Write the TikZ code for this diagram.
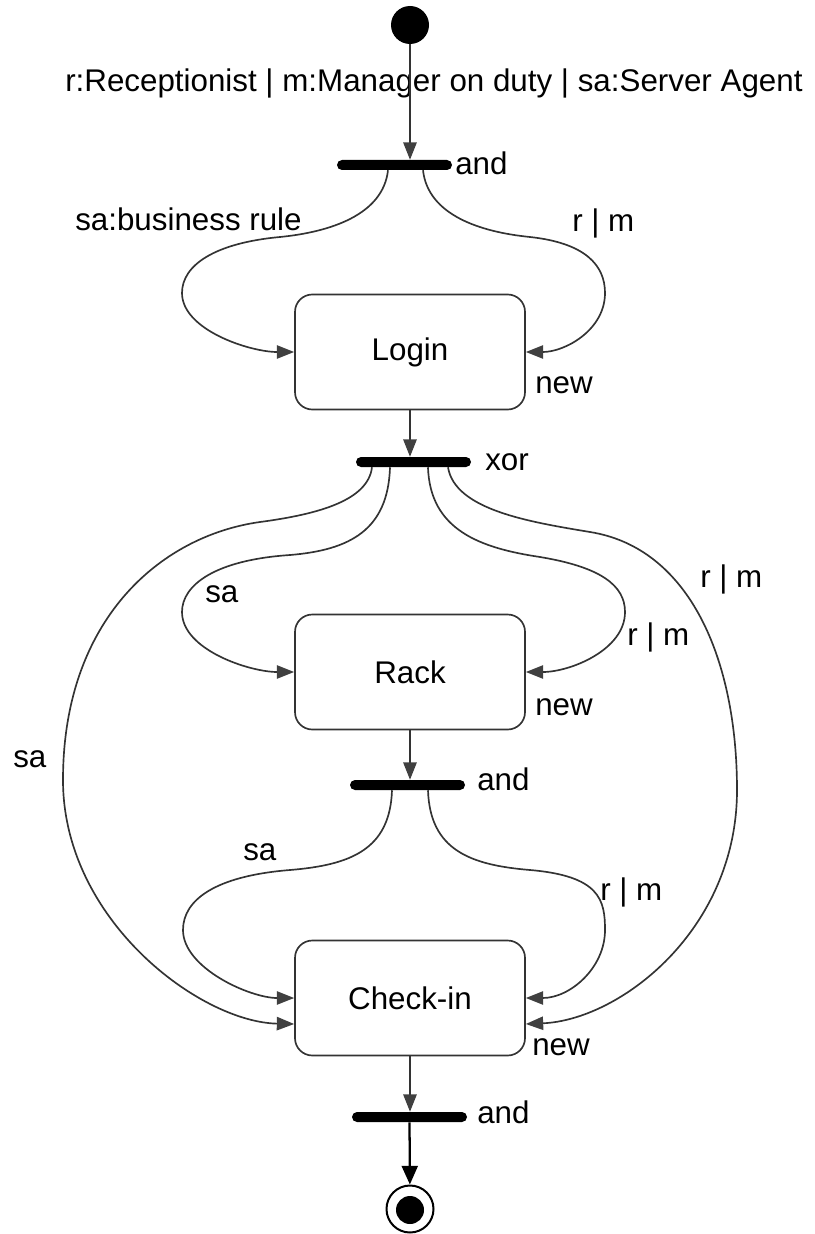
\documentclass[tikz,border=0pt]{standalone}
\usepackage{fontspec}
\setmainfont{Liberation Sans}
\usetikzlibrary{arrows.meta,calc}
\begin{document}
\begin{tikzpicture}[x=0.75pt,y=-0.75pt,
  font=\fontsize{23.5pt}{28pt}\selectfont,
  conn/.style={draw=black!80, line width=1.25pt,
    -{Triangle[length=13pt,width=10pt,color=black!75]}},
  finalconn/.style={draw=black, line width=1.7pt,
    -{Triangle[length=14pt,width=12pt,color=black]}},
  statebox/.style={draw=black!80, line width=1.25pt, rounded corners=13pt,
    minimum width=172.5pt, minimum height=86.25pt, inner sep=0pt},
  syncbar/.style={fill=black, draw=none, rounded corners=3.75pt,
    minimum width=86.25pt, minimum height=7.5pt, inner sep=0pt},
  lbl/.style={anchor=base west, inner sep=0pt}]
\useasboundingbox (0,0) rectangle (814,1234);

% nodes
\node[circle, fill=black, minimum size=28.5pt, inner sep=0pt] (start) at (410,25) {};
\node[syncbar] (bar1) at (394.5,165) {};
\node[statebox] (login) at (410,352) {Login};
\node[syncbar] (xor) at (413.5,462) {};
\node[statebox] (rack) at (410,672) {Rack};
\node[syncbar] (bar3) at (407.5,785) {};
\node[statebox] (checkin) at (410,998) {Check-in};
\node[syncbar] (bar4) at (409.5,1117) {};
\node[circle, draw=black, line width=1.5pt, minimum size=35.25pt, inner sep=0pt] (final) at (410,1209) {};
\node[circle, fill=black, minimum size=21pt, inner sep=0pt] (finalin) at (410,1210) {};

% labels
\node[lbl] (roles) at (65,92) {r:Receptionist | m:Manager on duty | sa:Server Agent};
\node[lbl] (and1) at (455,175) {and};
\node[lbl] (sabr) at (75,230) {sa:business rule};
\node[lbl] (rm1) at (572,231) {r | m};
\node[lbl] (new1) at (535,393) {new};
\node[lbl] (xorl) at (485,470) {xor};
\node[lbl] (sa1) at (205,602) {sa};
\node[lbl] (rm2) at (627,645) {r | m};
\node[lbl] (rm3) at (700,587) {r | m};
\node[lbl] (new2) at (535,715) {new};
\node[lbl] (and3) at (477,790) {and};
\node[lbl] (sa2) at (13,767) {sa};
\node[lbl] (sa3) at (243,860) {sa};
\node[lbl] (rm4) at (600,900) {r | m};
\node[lbl] (new3) at (532,1055) {new};
\node[lbl] (and4) at (477,1123) {and};

% straight connectors
\draw[conn] (start) -- (start |- bar1.north);
\draw[conn] (login) -- (login |- xor.north);
\draw[conn] (rack) -- (rack |- bar3.north);
\draw[conn] (checkin) -- (checkin |- bar4.north);
\draw[finalconn] (bar4) -- (final);

% from first and-bar to Login
\draw[conn] ($(bar1.south)+(-6.5,0)$) .. controls (383,215) and (330,232) .. (280,237)
  .. controls (215,243) and (182,265) .. (182,293)
  .. controls (182,330) and (250,352) .. (login.west);
\draw[conn] ($(bar1.south)+(28.5,0)$) .. controls (428,215) and (480,232) .. (530,237)
  .. controls (585,243) and (605,265) .. (605,293)
  .. controls (605,330) and (565,352) .. (login.east);

% from xor-bar
\draw[conn] ($(xor.south)+(-23.5,0)$) .. controls (388,530) and (350,550) .. (290,555)
  .. controls (215,560) and (182,585) .. (182,612)
  .. controls (182,650) and (250,672) .. (rack.west);
\draw[conn] ($(xor.south)+(-41.5,0)$) .. controls (368,500) and (320,514) .. (260,522)
  .. controls (160,536) and (63,620) .. (63,780)
  .. controls (63,920) and (200,1022) .. ($(checkin.west)+(0,26)$);
\draw[conn] ($(xor.south)+(14.5,0)$) .. controls (430,530) and (480,548) .. (540,557)
  .. controls (600,567) and (625,585) .. (625,612)
  .. controls (625,650) and (570,672) .. (rack.east);
\draw[conn] ($(xor.south)+(34.5,0)$) .. controls (455,510) and (530,522) .. (590,532)
  .. controls (690,548) and (737,660) .. (737,790)
  .. controls (737,930) and (620,1020) .. ($(checkin.east)+(0,26)$);

% from second and-bar to Check-in
\draw[conn] ($(bar3.south)+(-15.5,0)$) .. controls (390,850) and (350,865) .. (290,870)
  .. controls (215,876) and (183,900) .. (183,930)
  .. controls (183,968) and (250,998) .. (checkin.west);
\draw[conn] ($(bar3.south)+(20.5,0)$) .. controls (430,850) and (470,865) .. (530,870)
  .. controls (600,876) and (605,900) .. (605,930)
  .. controls (605,968) and (570,998) .. (checkin.east);
\end{tikzpicture}
\end{document}
